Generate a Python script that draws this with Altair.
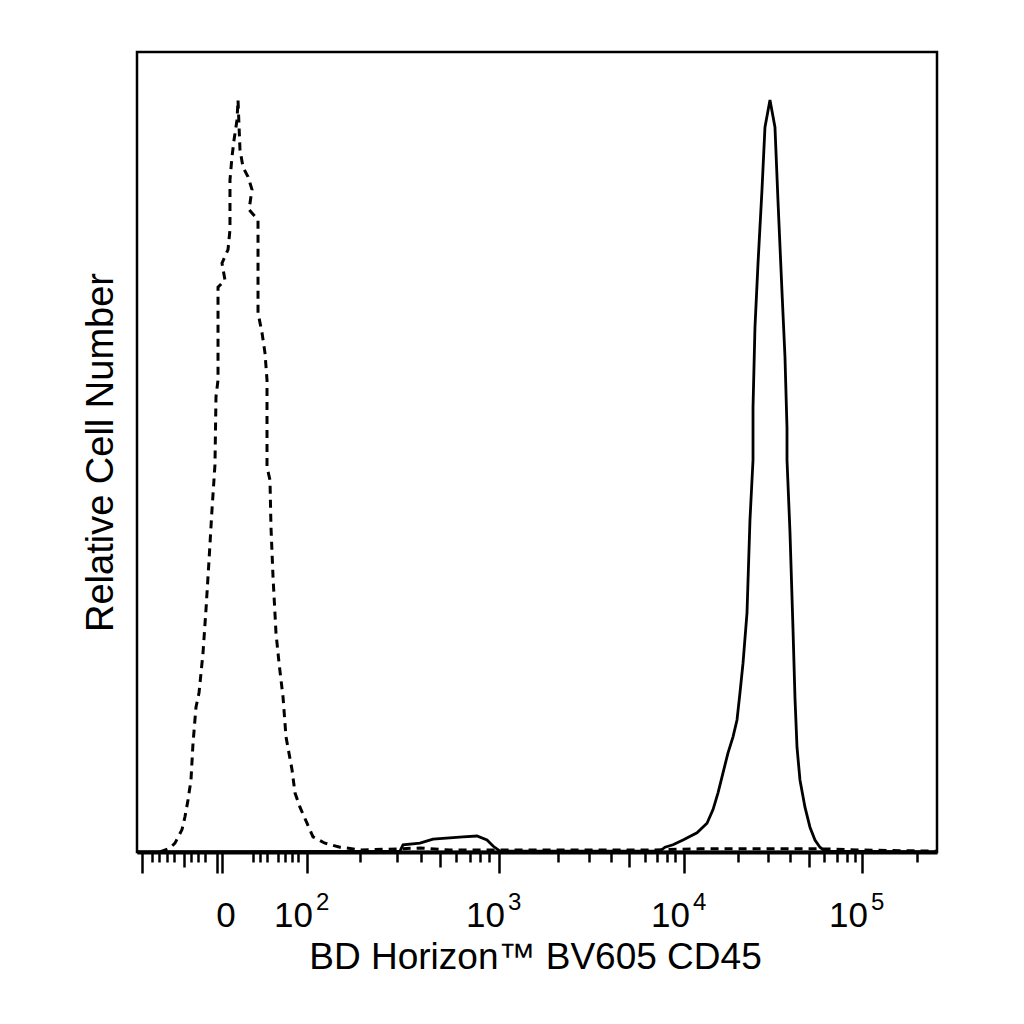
import altair as alt
import pandas as pd

# x is in display channels (0-1024 across the plot), y is relative cell number (0-100)
dashed_ch = [29.4, 42.2, 48.6, 57.6, 61.4, 65.3, 69.1, 71.7, 75.5, 79.4, 84.5, 88.3,
             92.2, 96.0, 99.8, 101.1, 103.7, 103.7, 103.7, 112.6, 108.8, 116.5, 119.0,
             119.0, 121.6, 124.2, 128.0, 129.3, 131.8, 135.7, 142.1, 147.2, 143.4, 154.9,
             154.9, 160.0, 163.8, 166.4, 166.4, 170.2, 171.5, 174.1, 177.9, 181.8, 186.9,
             190.7, 198.4, 202.2, 208.6, 217.6, 225.3, 240.6, 259.8, 268.8, 285.4, 336.6,
             362.2, 400.6, 464.6, 541.4, 656.6, 720.6, 797.4, 874.2, 925.4, 1024]
dashed_v = [0, 0.5, 1.1, 2.8, 4.4, 6.5, 9.0, 13.6, 18.1, 19.9, 24.9, 30.3,
            36.5, 42.8, 48.4, 56.9, 59.0, 67.4, 70.6, 71.5, 73.6, 75.3, 77.8,
            84.0, 86.9, 89.0, 91.5, 94.0, 87.8, 85.6, 84.4, 82.8, 80.3, 79.0,
            67.4, 64.9, 62.4, 59.0, 48.1, 46.5, 40.6, 34.4, 27.4, 23.6, 19.4,
            14.4, 10.3, 7.4, 5.6, 3.6, 1.9, 1.1, 0.6, 0.5, 0.25, 0.4,
            0.5, 0.25, 0.25, 0.25, 0.25, 0.4, 0.4, 0.4, 0.25, 0.1]

solid_ch = [0, 336.6, 340.5, 362.2, 378.9, 417.3, 435.2, 448.0, 455.7, 464.6, 669.4,
            675.8, 686.1, 698.9, 716.8, 729.6, 737.3, 743.7, 750.1, 756.5, 762.9, 768.0,
            771.8, 775.7, 780.8, 784.6, 788.5, 788.5, 791.0, 794.9, 800.0, 803.8, 810.2,
            816.6, 820.5, 825.6, 829.4, 832.0, 832.0, 835.8, 839.7, 842.2, 844.8, 848.6,
            855.0, 861.4, 867.8, 874.2, 880.6, 1024]
solid_v = [0, 0.1, 0.9, 1.1, 1.6, 1.9, 2.0, 1.5, 0.75, 0.1, 0.1,
           0.6, 0.9, 1.5, 2.4, 3.6, 5.3, 7.4, 9.9, 12.4, 14.4, 16.5,
           19.9, 23.6, 29.9, 41.5, 49.0, 55.6, 65.6, 73.6, 82.8, 90.6, 94.0,
           90.6, 81.3, 70.0, 61.9, 53.0, 49.0, 40.0, 27.8, 19.3, 13.1, 9.0,
           5.6, 3.1, 1.5, 0.6, 0.1, 0]

# axis ticks (channels)
long_ticks = [6.4, 102.4, 108.8, 217.6, 463.4, 700.2, 928.0]
medium_ticks = [60.2, 387.8, 629.8, 860.2]
minor_ticks = [19.2, 28.2, 38.4, 47.4, 69.1, 78.1, 87.0,
               148.5, 157.4, 166.4, 180.5, 189.4, 198.4, 206.1,
               285.4, 332.8, 363.5, 408.3, 426.2, 439.0, 450.6,
               538.9, 578.6, 606.7, 650.2, 665.6, 678.4, 688.6,
               769.3, 807.7, 835.8, 879.4, 896.0, 908.8, 919.0, 998.4]

zero_label_ch = [108.8]
decade_ch = [217.6, 463.4, 700.2, 928.0]
decade_exp = ["2", "3", "4", "5"]

FONT = "Liberation Sans"

dashed = pd.DataFrame({"ch": dashed_ch, "v": dashed_v, "i": range(len(dashed_ch))})
solid = pd.DataFrame({"ch": solid_ch, "v": solid_v, "i": range(len(solid_ch))})
zero_df = pd.DataFrame({"ch": zero_label_ch, "t": ["0"]})
dec_df = pd.DataFrame({"ch": decade_ch, "base": ["10"] * 4, "e": decade_exp})

x_scale = alt.Scale(domain=[0, 1024], nice=False, zero=False)
y_enc = alt.Y(
    "v:Q",
    scale=alt.Scale(domain=[0, 100], nice=False),
    axis=alt.Axis(title="Relative Cell Number", ticks=False, labels=False, domain=False,
                  grid=False, titleFontSize=38, titleFont=FONT, titleFontWeight="normal",
                  titleColor="black", titleBaseline="alphabetic", titlePadding=25),
)


def tick_axis(values, size, **kw):
    return alt.Axis(values=values, tickSize=size, tickWidth=2.5, tickColor="black",
                    labels=False, grid=False, orient="bottom", **kw)


dashed_line = alt.Chart(dashed).mark_line(color="black", strokeWidth=3, strokeDash=[8, 6]).encode(
    x=alt.X("ch:Q", scale=x_scale,
            axis=tick_axis(long_ticks, 21, domain=True, domainColor="black", domainWidth=4,
                           title="BD Horizon™ BV605 CD45", titleFont=FONT, titleFontSize=37,
                           titleFontWeight="normal", titleColor="black", titleX=398, titleY=116,
                           titleAlign="center", titleBaseline="alphabetic")),
    y=y_enc,
    order="i:Q",
)

solid_line = alt.Chart(solid).mark_line(color="black", strokeWidth=2.8).encode(
    x=alt.X("ch:Q", scale=x_scale, axis=tick_axis(medium_ticks, 15, domain=False, title=None)),
    y=y_enc,
    order="i:Q",
)

zero_text = alt.Chart(zero_df).mark_text(
    font=FONT, fontSize=35, align="center", baseline="alphabetic", dx=4, color="black"
).encode(
    x=alt.X("ch:Q", scale=x_scale, axis=tick_axis(minor_ticks, 10, domain=False, title=None)),
    y=alt.value(875),
    text="t:N",
)

base_text = alt.Chart(dec_df).mark_text(
    font=FONT, fontSize=35, align="right", baseline="alphabetic", dx=6, color="black"
).encode(
    x=alt.X("ch:Q", scale=x_scale, axis=None),
    y=alt.value(875),
    text="base:N",
)

exp_text = alt.Chart(dec_df).mark_text(
    font=FONT, fontSize=24, align="left", baseline="alphabetic", dx=9, color="black"
).encode(
    x=alt.X("ch:Q", scale=x_scale, axis=None),
    y=alt.value(858),
    text="e:N",
)

chart = (
    alt.layer(dashed_line, solid_line, zero_text, base_text, exp_text)
    .resolve_axis(x="independent")
    .properties(
        width=800,
        height=800,
        background="white",
        autosize=alt.AutoSizeParams(type="none"),
        padding={"left": 129, "top": 44, "right": 40, "bottom": 150},
    )
    .configure_view(stroke="black", strokeWidth=2.5)
)

chart.save("out.html", embed_options={"renderer": "svg", "actions": False})
